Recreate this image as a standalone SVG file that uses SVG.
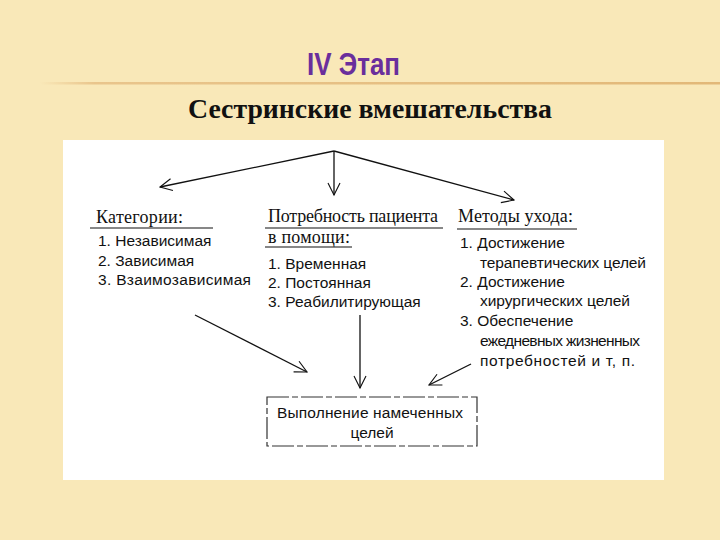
<svg xmlns="http://www.w3.org/2000/svg" width="720" height="540" viewBox="0 0 720 540">
<defs>
<linearGradient id="rule" x1="0" x2="1" y1="0" y2="0">
<stop offset="0" stop-color="#E9C58C" stop-opacity="0"/>
<stop offset="0.08" stop-color="#E9C58C" stop-opacity="1"/>
<stop offset="1" stop-color="#E2B878" stop-opacity="1"/>
</linearGradient>
<marker id="open" viewBox="0 0 20 20" refX="18" refY="10" markerWidth="15" markerHeight="15" markerUnits="userSpaceOnUse" orient="auto">
<path d="M2,2 L18,10 L2,18" fill="none" stroke="#111" stroke-width="1.5"/>
</marker>
</defs>
<style>
.h{font-family:"Liberation Serif","Times New Roman",serif;font-size:18px;fill:#111}
.t{font-family:"Liberation Sans",Arial,sans-serif;font-size:15.5px;fill:#111}
.c{stroke:#111;stroke-width:1.3;fill:none;marker-end:url(#open)}
.u{stroke:#111;stroke-width:1.2}
</style>
<rect width="720" height="540" fill="#F9E8B8"/>
<rect x="40" y="82" width="680" height="2.5" fill="url(#rule)"/>
<text x="307" y="75" textLength="93" lengthAdjust="spacingAndGlyphs" font-family="Liberation Sans,Arial,sans-serif" font-size="31" font-weight="bold" fill="#6A2E9C">IV Этап</text>
<text x="188" y="118" textLength="364" lengthAdjust="spacingAndGlyphs" font-family="Liberation Serif,Times New Roman,serif" font-size="28" font-weight="bold" fill="#111">Сестринские вмешательства</text>
<rect x="63" y="140" width="601" height="340" fill="#FFFFFF"/>
<g id="connectors">
<path class="c" d="M334,151 L160,187"/>
<path class="c" d="M334,151 L334,195"/>
<path class="c" d="M334,151 L514,200"/>
<path class="c" d="M195,315 L307,372"/>
<path class="c" d="M360,315 L360,388"/>
<path class="c" d="M471,364 L429,385"/>
</g>
<g id="categories">
<text class="h" x="96" y="223" textLength="87">Категории:</text>
<line class="u" x1="90" y1="228" x2="213" y2="228"/>
<text class="t" x="98" y="246">1. Независимая</text>
<text class="t" x="98" y="266">2. Зависимая</text>
<text class="t" x="98" y="285" textLength="153">3. Взаимозависимая</text>
</g>
<g id="need">
<text class="h" x="268" y="222" textLength="170">Потребность пациента</text>
<line class="u" x1="265" y1="228" x2="443" y2="228"/>
<text class="h" x="268" y="243" textLength="82">в помощи:</text>
<line class="u" x1="265" y1="247" x2="352" y2="247"/>
<text class="t" x="268" y="269">1. Временная</text>
<text class="t" x="268" y="288">2. Постоянная</text>
<text class="t" x="268" y="307">3. Реабилитирующая</text>
</g>
<g id="methods">
<text class="h" x="458" y="222" textLength="115">Методы ухода:</text>
<line class="u" x1="457" y1="229" x2="577" y2="229"/>
<text class="t" x="460" y="248">1. Достижение</text>
<text class="t" x="480" y="268" textLength="166">терапевтических целей</text>
<text class="t" x="460" y="287">2. Достижение</text>
<text class="t" x="480" y="306" textLength="150">хирургических целей</text>
<text class="t" x="460" y="326">3. Обеспечение</text>
<text class="t" x="480" y="346" textLength="160">ежедневных жизненных</text>
<text class="t" x="480" y="366" textLength="155">потребностей и т, п.</text>
</g>
<g id="result">
<rect x="267" y="397" width="210" height="49" fill="none" stroke="#333" stroke-width="1.2" stroke-dasharray="22,3,6,3"/>
<text class="t" x="277" y="418" textLength="186">Выполнение намеченных</text>
<text class="t" x="372" y="438" text-anchor="middle">целей</text>
</g>
</svg>
